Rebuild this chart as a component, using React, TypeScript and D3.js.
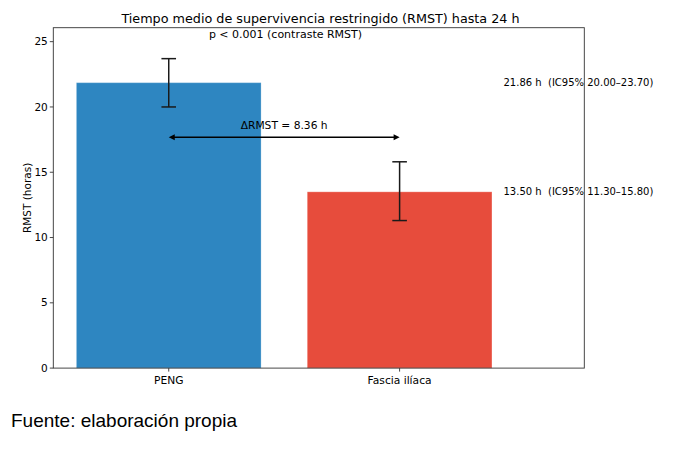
import React from "react";
import * as d3 from "d3";

const categories = ["PENG", "Fascia ilíaca"];
const rmst = [21.86, 13.5];
const ciLow = [20.0, 11.3];
const ciHigh = [23.7, 15.8];
const barColors = ["#2E86C1", "#E74C3C"];
const yTicks = [0, 5, 10, 15, 20, 25];
const deltaRmst = 8.36;
const titleText = "Tiempo medio de supervivencia restringido (RMST) hasta 24 h";
const pText = "p < 0.001 (contraste RMST)";
const sourceText = "Fuente: elaboración propia";

const W = 675;
const H = 449;
const FONT = "'DejaVu Sans', sans-serif";

export default function App() {
  const x = d3.scaleLinear().domain([-0.5, 1.8]).range([53.3, 584.3]);
  const y = d3.scaleLinear().domain([0, 26.07]).range([368.1, 27.7]);
  const barW = 0.8;
  const capHalf = 7.3;
  const meanR = d3.mean(rmst) as number;
  const arrowY = y(meanR);
  const ax0 = x(0);
  const ax1 = x(1);
  const head = 6;
  const headW = 3;

  return (
    <svg
      width={W}
      height={H}
      style={{ position: "absolute", left: 0, top: 0, background: "#fff" }}
      fontFamily={FONT}
    >
      <rect x={0} y={0} width={W} height={H} fill="#fff" />
      {/* title */}
      <text x={320.5} y={23.3} fontSize={12.75} textAnchor="middle" fill="#000">
        {titleText}
      </text>
      {/* bars */}
      {categories.map((c, i) => (
        <rect
          key={c}
          x={x(i - barW / 2)}
          y={y(rmst[i])}
          width={x(i + barW / 2) - x(i - barW / 2)}
          height={y(0) - y(rmst[i])}
          fill={barColors[i]}
          stroke="#fff"
          strokeOpacity={0.25}
          strokeWidth={1}
        />
      ))}
      {/* error bars */}
      {categories.map((c, i) => (
        <g key={"e" + c} stroke="#1a1a1a" strokeWidth={1.5}>
          <line x1={x(i)} x2={x(i)} y1={y(ciLow[i])} y2={y(ciHigh[i])} />
          <line x1={x(i) - capHalf} x2={x(i) + capHalf} y1={y(ciLow[i])} y2={y(ciLow[i])} />
          <line x1={x(i) - capHalf} x2={x(i) + capHalf} y1={y(ciHigh[i])} y2={y(ciHigh[i])} />
        </g>
      ))}
      {/* delta arrow */}
      <line x1={ax0 + head - 1} x2={ax1 - head + 1} y1={arrowY} y2={arrowY} stroke="#000" strokeWidth={1.5} />
      <path
        d={`M${ax0},${arrowY} L${ax0 + head},${arrowY - headW} L${ax0 + head},${arrowY + headW} Z`}
        fill="#000"
      />
      <path
        d={`M${ax1},${arrowY} L${ax1 - head},${arrowY - headW} L${ax1 - head},${arrowY + headW} Z`}
        fill="#000"
      />
      <text x={x(0.5)} y={y(meanR + 0.6)} fontSize={10.7} textAnchor="middle" fill="#000">
        {`ΔRMST = ${deltaRmst.toFixed(2)} h`}
      </text>
      {/* p value */}
      <text x={285.5} y={38.3} fontSize={11} textAnchor="middle" fill="#000">
        {pText}
      </text>
      {/* side annotations */}
      {categories.map((c, i) => (
        <text
          key={"a" + c}
          x={x(1.45)}
          y={y(rmst[i])}
          dy="0.35em"
          fontSize={10}
          fill="#000"
          style={{ whiteSpace: "pre" }}
        >
          {`${rmst[i].toFixed(2)} h  (IC95% ${ciLow[i].toFixed(2)}–${ciHigh[i].toFixed(2)})`}
        </text>
      ))}
      {/* frame */}
      <rect
        x={x(-0.5)}
        y={y(26.07)}
        width={x(1.8) - x(-0.5)}
        height={y(0) - y(26.07)}
        fill="none"
        stroke="#333"
        strokeWidth={0.9}
      />
      {/* y axis ticks */}
      {yTicks.map((t) => (
        <g key={"y" + t}>
          <line x1={x(-0.5) - 3.5} x2={x(-0.5)} y1={y(t)} y2={y(t)} stroke="#333" strokeWidth={0.9} />
          <text x={x(-0.5) - 5.5} y={y(t)} dy="0.35em" fontSize={10.5} textAnchor="end" fill="#000">
            {t}
          </text>
        </g>
      ))}
      {/* x axis ticks */}
      {categories.map((c, i) => (
        <g key={"x" + c}>
          <line x1={x(i)} x2={x(i)} y1={y(0)} y2={y(0) + 3.5} stroke="#333" strokeWidth={0.9} />
          <text x={x(i)} y={384} fontSize={10.7} textAnchor="middle" fill="#000">
            {c}
          </text>
        </g>
      ))}
      {/* y label */}
      <text
        transform={`translate(30.5, ${(y(0) + y(26.07)) / 2}) rotate(-90)`}
        fontSize={10.5}
        textAnchor="middle"
        fill="#000"
      >
        RMST (horas)
      </text>
      {/* source */}
      <text x={11} y={427} fontSize={19} fontFamily="'Liberation Sans', Arial, sans-serif" fill="#000">
        {sourceText}
      </text>
    </svg>
  );
}
